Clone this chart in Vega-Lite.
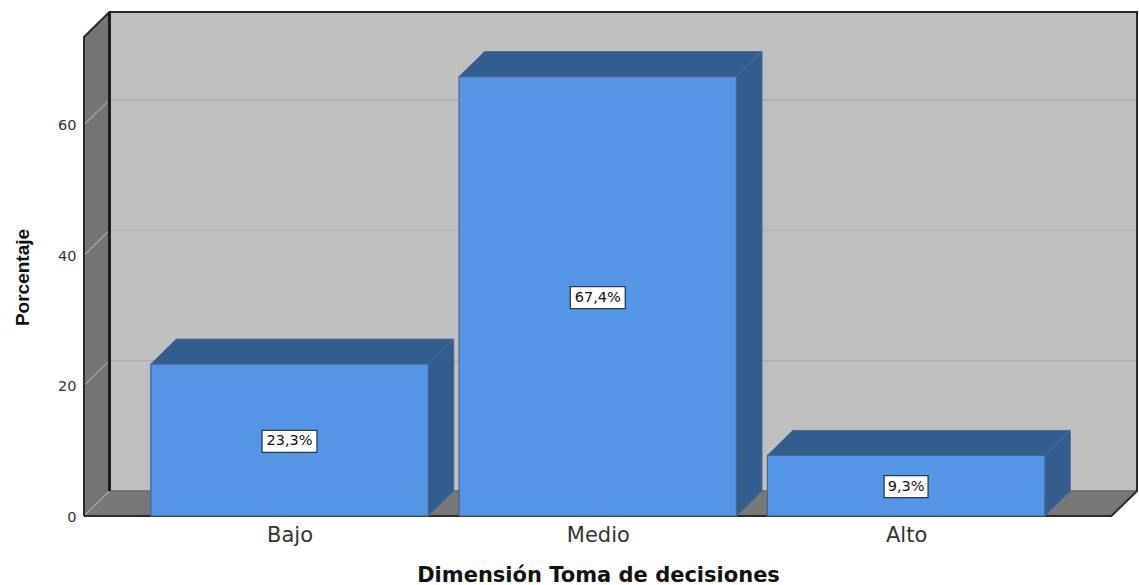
{
"$schema":"https://vega.github.io/schema/vega-lite/v6.json",
"width":1053,"height":504,
"autosize":{"type":"none"},
"padding":{"left":84,"top":12,"right":2,"bottom":69},
"background":"#ffffff",
"config":{"view":{"stroke":null}},
"datasets":{
"pared":[{"u":0.416,"v":3.83,"v2":77.3},{"u":3.749,"v":3.83,"v2":77.3}],
"lateral_izq":[{"u":0.3334,"v":0,"v2":73.47},{"u":0.416,"v":3.83,"v2":77.3}],
"piso":[{"u":0.3334,"u2":3.666,"v":0},{"u":0.416,"u2":3.749,"v":3.83}],
"rejilla":[
{"valor":0,"i":1,"u":0.3334,"v":0},{"valor":0,"i":2,"u":0.416,"v":3.83},
{"valor":20,"i":1,"u":0.3334,"v":20},{"valor":20,"i":2,"u":0.416,"v":23.83},{"valor":20,"i":3,"u":3.749,"v":23.83},
{"valor":40,"i":1,"u":0.3334,"v":40},{"valor":40,"i":2,"u":0.416,"v":43.83},{"valor":40,"i":3,"u":3.749,"v":43.83},
{"valor":60,"i":1,"u":0.3334,"v":60},{"valor":60,"i":2,"u":0.416,"v":63.83},{"valor":60,"i":3,"u":3.749,"v":63.83}],
"contorno":[
{"i":1,"u":0.3334,"v":0},{"i":2,"u":0.3334,"v":73.47},{"i":3,"u":0.416,"v":77.3},{"i":4,"u":3.749,"v":77.3},{"i":5,"u":3.749,"v":3.83},{"i":6,"u":3.666,"v":0},{"i":7,"u":0.3334,"v":0}],
"esquina":[{"i":1,"u":0.416,"v":3.83},{"i":2,"u":0.416,"v":77.3}],
"borde_piso":[{"i":1,"u":0.416,"v":3.83},{"i":2,"u":3.749,"v":3.83}],
"barras":[
{"categoria":"Bajo","u":0.55,"u2":1.45,"v":23.3,"v2":0},
{"categoria":"Medio","u":1.55,"u2":2.45,"v":67.4,"v2":0},
{"categoria":"Alto","u":2.55,"u2":3.45,"v":9.3,"v2":0}],
"lados":[
{"categoria":"Bajo","u":1.45,"v":0,"v2":23.3},{"categoria":"Bajo","u":1.5327,"v":3.83,"v2":27.13},
{"categoria":"Medio","u":2.45,"v":0,"v2":67.4},{"categoria":"Medio","u":2.5327,"v":3.83,"v2":71.23},
{"categoria":"Alto","u":3.45,"v":0,"v2":9.3},{"categoria":"Alto","u":3.5327,"v":3.83,"v2":13.13}],
"techos":[
{"categoria":"Bajo","u":0.55,"u2":1.45,"v":23.3},{"categoria":"Bajo","u":0.6327,"u2":1.5327,"v":27.13},
{"categoria":"Medio","u":1.55,"u2":2.45,"v":67.4},{"categoria":"Medio","u":1.6327,"u2":2.5327,"v":71.23},
{"categoria":"Alto","u":2.55,"u2":3.45,"v":9.3},{"categoria":"Alto","u":2.6327,"u2":3.5327,"v":13.13}],
"etiquetas":[
{"categoria":"Bajo","u":1,"v":11.45,"etiqueta":"23,3%"},
{"categoria":"Medio","u":2,"v":33.5,"etiqueta":"67,4%"},
{"categoria":"Alto","u":3,"v":4.5,"etiqueta":"9,3%"}]
},
"encoding":{
"x":{"field":"u","type":"quantitative","scale":{"domain":[0.3334,3.749],"nice":false,"zero":false},
 "axis":{"values":[1,2,3],"labelExpr":"datum.value==1?'Bajo':datum.value==2?'Medio':'Alto'","grid":false,"domain":false,"ticks":false,"labelFont":"DejaVu Sans","labelFontSize":21,"labelColor":"#333333","labelPadding":8,
 "title":"Dimensión Toma de decisiones","titleFont":"DejaVu Sans","titleFontSize":21,"titleFontWeight":"bold","titleColor":"#111111","titleX":514,"titleY":59,"titleBaseline":"middle","titleAlign":"center"}},
"y":{"field":"v","type":"quantitative","scale":{"domain":[0,77.3],"nice":false},
 "axis":{"values":[0,20,40,60],"grid":false,"domain":false,"ticks":false,"labelFont":"DejaVu Sans","labelFontSize":14.5,"labelColor":"#333333","labelPadding":8,"labelOffset":1,
 "title":"Porcentaje","titleFont":"Liberation Sans","titleFontSize":19,"titleFontWeight":"bold","titleColor":"#111111","titleX":-62,"titleY":265,"titleBaseline":"middle","titleAlign":"center"}}
},
"layer":[
{"data":{"name":"pared"},"mark":{"type":"area","fill":"#bfbfbf"},"encoding":{"y2":{"field":"v2"}}},
{"data":{"name":"rejilla"},"mark":{"type":"line","stroke":"#adadad","strokeWidth":1.2},"encoding":{"detail":{"field":"valor"},"order":{"field":"i"}}},
{"data":{"name":"lateral_izq"},"mark":{"type":"area","fill":"#757575"},"encoding":{"y2":{"field":"v2"}}},
{"data":{"name":"piso"},"mark":{"type":"area","orient":"horizontal","fill":"#787878"},"encoding":{"x2":{"field":"u2"}}},
{"data":{"name":"rejilla"},"transform":[{"filter":"datum.i<3"}],"mark":{"type":"line","stroke":"#a6a6a6","strokeWidth":1.2},"encoding":{"detail":{"field":"valor"},"order":{"field":"i"}}},
{"data":{"name":"borde_piso"},"mark":{"type":"line","stroke":"#666666","strokeWidth":1.5},"encoding":{"order":{"field":"i"}}},
{"data":{"name":"contorno"},"mark":{"type":"line","stroke":"#2b2b2b","strokeWidth":2},"encoding":{"order":{"field":"i"}}},
{"data":{"name":"esquina"},"mark":{"type":"line","stroke":"#1c1c1c","strokeWidth":3},"encoding":{"order":{"field":"i"}}},
{"data":{"name":"lados"},"mark":{"type":"area","fill":"#335c8f","stroke":"#4b6c95","strokeWidth":1},"encoding":{"y2":{"field":"v2"},"detail":{"field":"categoria"}}},
{"data":{"name":"techos"},"mark":{"type":"area","orient":"horizontal","fill":"#335c8f","stroke":"#4b6c95","strokeWidth":1},"encoding":{"x2":{"field":"u2"},"detail":{"field":"categoria"}}},
{"data":{"name":"barras"},"mark":{"type":"rect","fill":"#5495e6","stroke":"#44668f","strokeWidth":1.2},"encoding":{"x2":{"field":"u2"},"y2":{"field":"v2"}}},
{"data":{"name":"etiquetas"},"transform":[{"filter":"datum.categoria!='Alto'"}],"mark":{"type":"rect","fill":"#ffffff","stroke":"#2a3a50","strokeWidth":1.3,"width":55,"height":22}},
{"data":{"name":"etiquetas"},"transform":[{"filter":"datum.categoria=='Alto'"}],"mark":{"type":"rect","fill":"#ffffff","stroke":"#2a3a50","strokeWidth":1.3,"width":44,"height":22}},
{"data":{"name":"etiquetas"},"mark":{"type":"text","font":"DejaVu Sans","fontSize":14.5,"color":"#111111","align":"center","baseline":"middle"},"encoding":{"text":{"field":"etiqueta"}}}
]
}
